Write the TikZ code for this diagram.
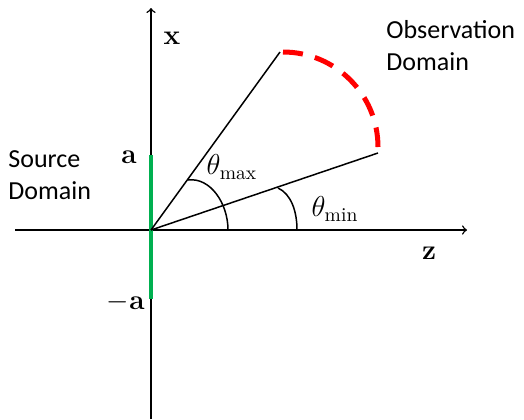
\documentclass[tikz,border=0pt]{standalone}
\usepackage{fontspec}
\newfontfamily\domainfont{Carlito}
\definecolor{srcgreen}{RGB}{0,176,80}
\tikzset{
  axis/.style={->, line width=0.75pt},
  ray/.style={line width=0.75pt},
  anglearc/.style={line width=0.75pt},
  domaintext/.style={align=left, anchor=west, inner sep=0pt, font=\domainfont\fontsize{13}{16}\selectfont},
  axislabel/.style={inner sep=0pt, font=\fontsize{14}{16}\selectfont\bfseries}
}
\begin{document}
\begin{tikzpicture}[x=0.5pt, y=-0.5pt, >=to]
\useasboundingbox (0,0) rectangle (524,419);
% 1. points
\coordinate (O) at (151,230);
\coordinate (zL) at (15,230);
\coordinate (zR) at (467,230);
\coordinate (xB) at (151,419);
\coordinate (xT) at (151,8);
\coordinate (srcTop) at (151,155);
\coordinate (srcBot) at (151,299);
\coordinate (rayMax) at (280,52);
\coordinate (rayMin) at (378,153);
\coordinate (obsStart) at (283,52);
\coordinate (obsEnd) at (378,147);

% 2. axes
\draw[axis] (zL) -- (zR);
\draw[axis] (xB) -- (xT);
\node[axislabel] (xlab) at (172,38) {x};
\node[axislabel] (zlab) at (429,253) {z};

% 3. source domain (green)
\draw[srcgreen, line width=2pt] (srcBot) -- (srcTop);
\node[axislabel] (alab) at (129,157) {a};
\node[axislabel, anchor=east] (malab) at (145,302) {$-$a};
\node[domaintext] (src) at (8,175) {Source\\Domain};

% 4. rays
\draw[ray] (O) -- (rayMax);
\draw[ray] (O) -- (rayMin);

% 5. observation domain (red, dashed)
\draw[red, line width=2.5pt, dash pattern=on 10pt off 6.2pt] (obsStart) arc[start angle=-90, end angle=0, radius=95];
\node[domaintext] (obs) at (386,46) {Observation\\Domain};

% 6. angles
\draw[anglearc] (188,180) .. controls (210,177) and (228,203) .. (228,230);
\draw[anglearc] (278,188) .. controls (291,194) and (297,211) .. (297,230);
\node[inner sep=0pt, font=\fontsize{14}{16}\selectfont] (tmax) at (232,167) {$\theta_{\max}$};
\node[inner sep=0pt, font=\fontsize{14}{16}\selectfont] (tmin) at (335,209) {$\theta_{\min}$};
\end{tikzpicture}
\end{document}
